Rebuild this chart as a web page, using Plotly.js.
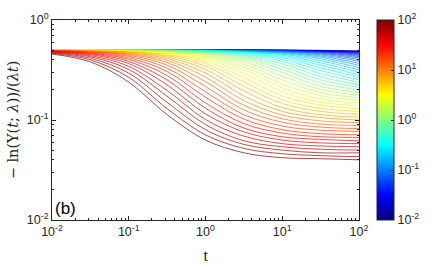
<!DOCTYPE html>
<html>
<head>
<meta charset="utf-8">
<script src="https://cdn.plot.ly/plotly-3.0.1.min.js"></script>
<style>html,body{margin:0;padding:0;background:#fff;}#chart{width:447px;height:268px;}</style>
</head>
<body>
<div id="chart"></div>
<script>
// time points (t)
const tValues = [0.01, 0.0316, 0.1, 0.316, 1, 3.16, 10, 31.6, 100];
// lambda of each curve (colour axis)
const lambdas = [0.01, 0.0121, 0.0147, 0.0178, 0.0215, 0.0261, 0.0316, 0.0383, 0.0464, 0.0562, 0.0681, 0.0825,
  0.1, 0.121, 0.147, 0.178, 0.215, 0.261, 0.316, 0.383, 0.464, 0.562, 0.681, 0.825,
  1, 1.21, 1.47, 1.78, 2.15, 2.61, 3.16, 3.83, 4.64, 5.62, 6.81, 8.25,
  10, 12.1, 14.7, 17.8, 21.5, 26.1, 31.6, 38.3, 46.4, 56.2, 68.1, 82.5, 100];
// -ln(Upsilon(t;lambda))/(lambda t), one row per lambda, read at tValues
const rateCurves = [
  [0.5,0.5,0.5,0.5,0.5,0.5,0.499,0.497,0.490],
  [0.5,0.5,0.5,0.5,0.5,0.5,0.499,0.496,0.488],
  [0.5,0.5,0.5,0.5,0.5,0.5,0.498,0.495,0.485],
  [0.5,0.5,0.5,0.5,0.5,0.5,0.498,0.493,0.481],
  [0.5,0.5,0.5,0.5,0.5,0.5,0.497,0.492,0.476],
  [0.5,0.5,0.5,0.5,0.5,0.5,0.497,0.489,0.470],
  [0.5,0.5,0.5,0.5,0.5,0.499,0.496,0.486,0.462],
  [0.5,0.5,0.5,0.5,0.5,0.498,0.494,0.483,0.453],
  [0.5,0.5,0.5,0.5,0.5,0.498,0.493,0.478,0.443],
  [0.5,0.5,0.5,0.5,0.5,0.497,0.491,0.473,0.431],
  [0.5,0.5,0.5,0.5,0.5,0.496,0.488,0.466,0.418],
  [0.5,0.5,0.5,0.5,0.5,0.495,0.485,0.458,0.403],
  [0.5,0.5,0.5,0.5,0.498,0.494,0.481,0.448,0.387],
  [0.5,0.5,0.5,0.5,0.498,0.492,0.477,0.437,0.369],
  [0.5,0.5,0.5,0.5,0.497,0.490,0.471,0.424,0.352],
  [0.5,0.5,0.5,0.5,0.496,0.488,0.464,0.409,0.334],
  [0.5,0.5,0.5,0.5,0.495,0.484,0.455,0.392,0.316],
  [0.5,0.5,0.5,0.5,0.494,0.481,0.445,0.373,0.299],
  [0.5,0.5,0.5,0.497,0.492,0.476,0.433,0.353,0.282],
  [0.5,0.5,0.5,0.497,0.490,0.470,0.419,0.333,0.267],
  [0.5,0.5,0.5,0.496,0.488,0.463,0.403,0.312,0.252],
  [0.5,0.5,0.5,0.495,0.484,0.454,0.385,0.291,0.238],
  [0.5,0.5,0.5,0.494,0.481,0.444,0.365,0.271,0.224],
  [0.5,0.5,0.5,0.492,0.476,0.432,0.343,0.252,0.212],
  [0.5,0.5,0.497,0.490,0.470,0.418,0.321,0.234,0.200],
  [0.5,0.5,0.496,0.488,0.464,0.402,0.297,0.217,0.188],
  [0.5,0.5,0.495,0.485,0.455,0.384,0.274,0.202,0.177],
  [0.5,0.5,0.494,0.481,0.446,0.363,0.251,0.188,0.167],
  [0.5,0.5,0.493,0.477,0.434,0.341,0.229,0.175,0.157],
  [0.5,0.5,0.491,0.472,0.421,0.317,0.209,0.162,0.148],
  [0.5,0.496,0.489,0.466,0.405,0.292,0.191,0.151,0.139],
  [0.5,0.496,0.486,0.458,0.387,0.266,0.174,0.141,0.130],
  [0.5,0.494,0.483,0.449,0.367,0.241,0.159,0.131,0.122],
  [0.5,0.493,0.479,0.438,0.345,0.217,0.146,0.122,0.114],
  [0.5,0.492,0.474,0.426,0.320,0.195,0.133,0.113,0.107],
  [0.5,0.490,0.469,0.411,0.295,0.174,0.122,0.106,0.100],
  [0.496,0.487,0.462,0.394,0.268,0.156,0.112,0.098,0.094],
  [0.495,0.485,0.454,0.375,0.242,0.140,0.103,0.091,0.088],
  [0.494,0.481,0.444,0.354,0.216,0.126,0.095,0.085,0.082],
  [0.493,0.477,0.433,0.330,0.191,0.113,0.087,0.079,0.077],
  [0.491,0.472,0.419,0.305,0.169,0.102,0.080,0.073,0.071],
  [0.489,0.466,0.404,0.278,0.148,0.092,0.074,0.068,0.067],
  [0.486,0.459,0.386,0.251,0.131,0.083,0.068,0.064,0.062],
  [0.484,0.451,0.367,0.224,0.115,0.076,0.063,0.059,0.058],
  [0.480,0.440,0.344,0.197,0.101,0.069,0.058,0.055,0.054],
  [0.476,0.429,0.320,0.173,0.090,0.062,0.054,0.051,0.050],
  [0.470,0.415,0.294,0.150,0.080,0.057,0.050,0.047,0.047],
  [0.464,0.399,0.267,0.130,0.071,0.052,0.046,0.044,0.043],
  [0.457,0.381,0.239,0.113,0.063,0.047,0.042,0.041,0.040]
];
const xTickVals = [0.01, 0.1, 1, 10, 100];
const xTickText = ['10<sup>-2</sup>','10<sup>-1</sup>','10<sup>0</sup>','10<sup>1</sup>','10<sup>2</sup>'];
const yTickVals = [0.01, 0.1, 1];
const yTickText = ['10<sup>-2</sup>','10<sup>-1</sup>','10<sup>0</sup>'];
const cbTickVals = [-2, -1, 0, 1, 2];
const cbTickText = ['10<sup>-2</sup>','10<sup>-1</sup>','10<sup>0</sup>','10<sup>1</sup>','10<sup>2</sup>'];

// MATLAB jet colormap
const jet = [[0,'rgb(0,0,128)'],[0.125,'rgb(0,0,255)'],[0.375,'rgb(0,255,255)'],
             [0.625,'rgb(255,255,0)'],[0.875,'rgb(255,0,0)'],[1,'rgb(128,0,0)']];
const jetRGB = [[0,[0,0,128]],[0.125,[0,0,255]],[0.375,[0,255,255]],[0.625,[255,255,0]],[0.875,[255,0,0]],[1,[128,0,0]]];
function jetColor(v){
  v = Math.max(0, Math.min(1, v));
  for (let i=1;i<jetRGB.length;i++){
    if (v <= jetRGB[i][0]){
      const a = jetRGB[i-1], b = jetRGB[i];
      const f = (v - a[0])/(b[0]-a[0]);
      const c = a[1].map((x,j)=>Math.round(x + f*(b[1][j]-x)));
      return 'rgb('+c.join(',')+')';
    }
  }
  return 'rgb(128,0,0)';
}

const axisColor = '#262626';
const traces = lambdas.map((lam, k) => ({
  type: 'scatter', mode: 'lines',
  x: tValues, y: rateCurves[k],
  line: {color: jetColor((Math.log10(lam)+2)/4), width: 0.7, shape: 'spline', smoothing: 1},
  hoverinfo: 'skip', showlegend: false
}));
traces.push({
  type: 'scatter', mode: 'markers', x: [1], y: [0.5], hoverinfo: 'skip', showlegend: false,
  marker: {size: 0.1, opacity: 0, color: [0], cmin: -2, cmax: 2, colorscale: jet, showscale: true,
    colorbar: {x: 1.0586, xanchor: 'left', y: 0.5, yanchor: 'middle', len: 1, lenmode: 'fraction',
      thickness: 17, thicknessmode: 'pixels', xpad: 0, ypad: 0,
      outlinewidth: 1, outlinecolor: axisColor,
      tickmode: 'array', tickvals: cbTickVals, ticktext: cbTickText,
      ticks: 'inside', ticklen: 3, tickcolor: axisColor,
      tickfont: {family: 'Liberation Sans, Arial, sans-serif', size: 12.5, color: axisColor}}}
});

const minorX = [], minorY = [];
for (let d=-2; d<2; d++) for (let m=2; m<10; m++) minorX.push(m*Math.pow(10,d));
for (let d=-2; d<0; d++) for (let m=2; m<10; m++) minorY.push(m*Math.pow(10,d));

const layout = {
  width: 447, height: 268,
  margin: {l: 52, r: 88, t: 20, b: 48},
  paper_bgcolor: 'white', plot_bgcolor: 'white',
  showlegend: false,
  font: {family: 'Liberation Sans, Arial, sans-serif', size: 12.5, color: axisColor},
  xaxis: {type: 'log', range: [-2, 2], tickmode: 'array', tickvals: xTickVals, ticktext: xTickText,
    ticks: 'inside', ticklen: 4, tickcolor: axisColor, showline: true, mirror: 'ticks',
    linecolor: axisColor, linewidth: 1, showgrid: false, zeroline: false,
    minor: {tickmode: 'array', tickvals: minorX, ticks: 'inside', ticklen: 2, tickcolor: axisColor, showgrid: false},
    title: {text: 't', font: {size: 15}, standoff: 12}},
  yaxis: {type: 'log', range: [-2, 0], tickmode: 'array', tickvals: yTickVals, ticktext: yTickText,
    ticks: 'inside', ticklen: 4, tickcolor: axisColor, showline: true, mirror: 'ticks',
    linecolor: axisColor, linewidth: 1, showgrid: false, zeroline: false,
    minor: {tickmode: 'array', tickvals: minorY, ticks: 'inside', ticklen: 2, tickcolor: axisColor, showgrid: false},
    title: {text: '\u2212 ln(\u03A5(<i>t</i>; <i>\u03BB</i>))/(<i>\u03BBt</i>)',
      font: {family: 'DejaVu Serif, Liberation Serif, serif', size: 14.5}, standoff: 4}},
  annotations: [{xref: 'paper', yref: 'paper', x: 0, y: 0, xanchor: 'left', yanchor: 'bottom',
    xshift: 1, yshift: 0, showarrow: false, text: '(b)', font: {size: 17, color: '#000'}}]
};

Plotly.newPlot('chart', traces, layout, {staticPlot: true, displayModeBar: false});
</script>
</body>
</html>
